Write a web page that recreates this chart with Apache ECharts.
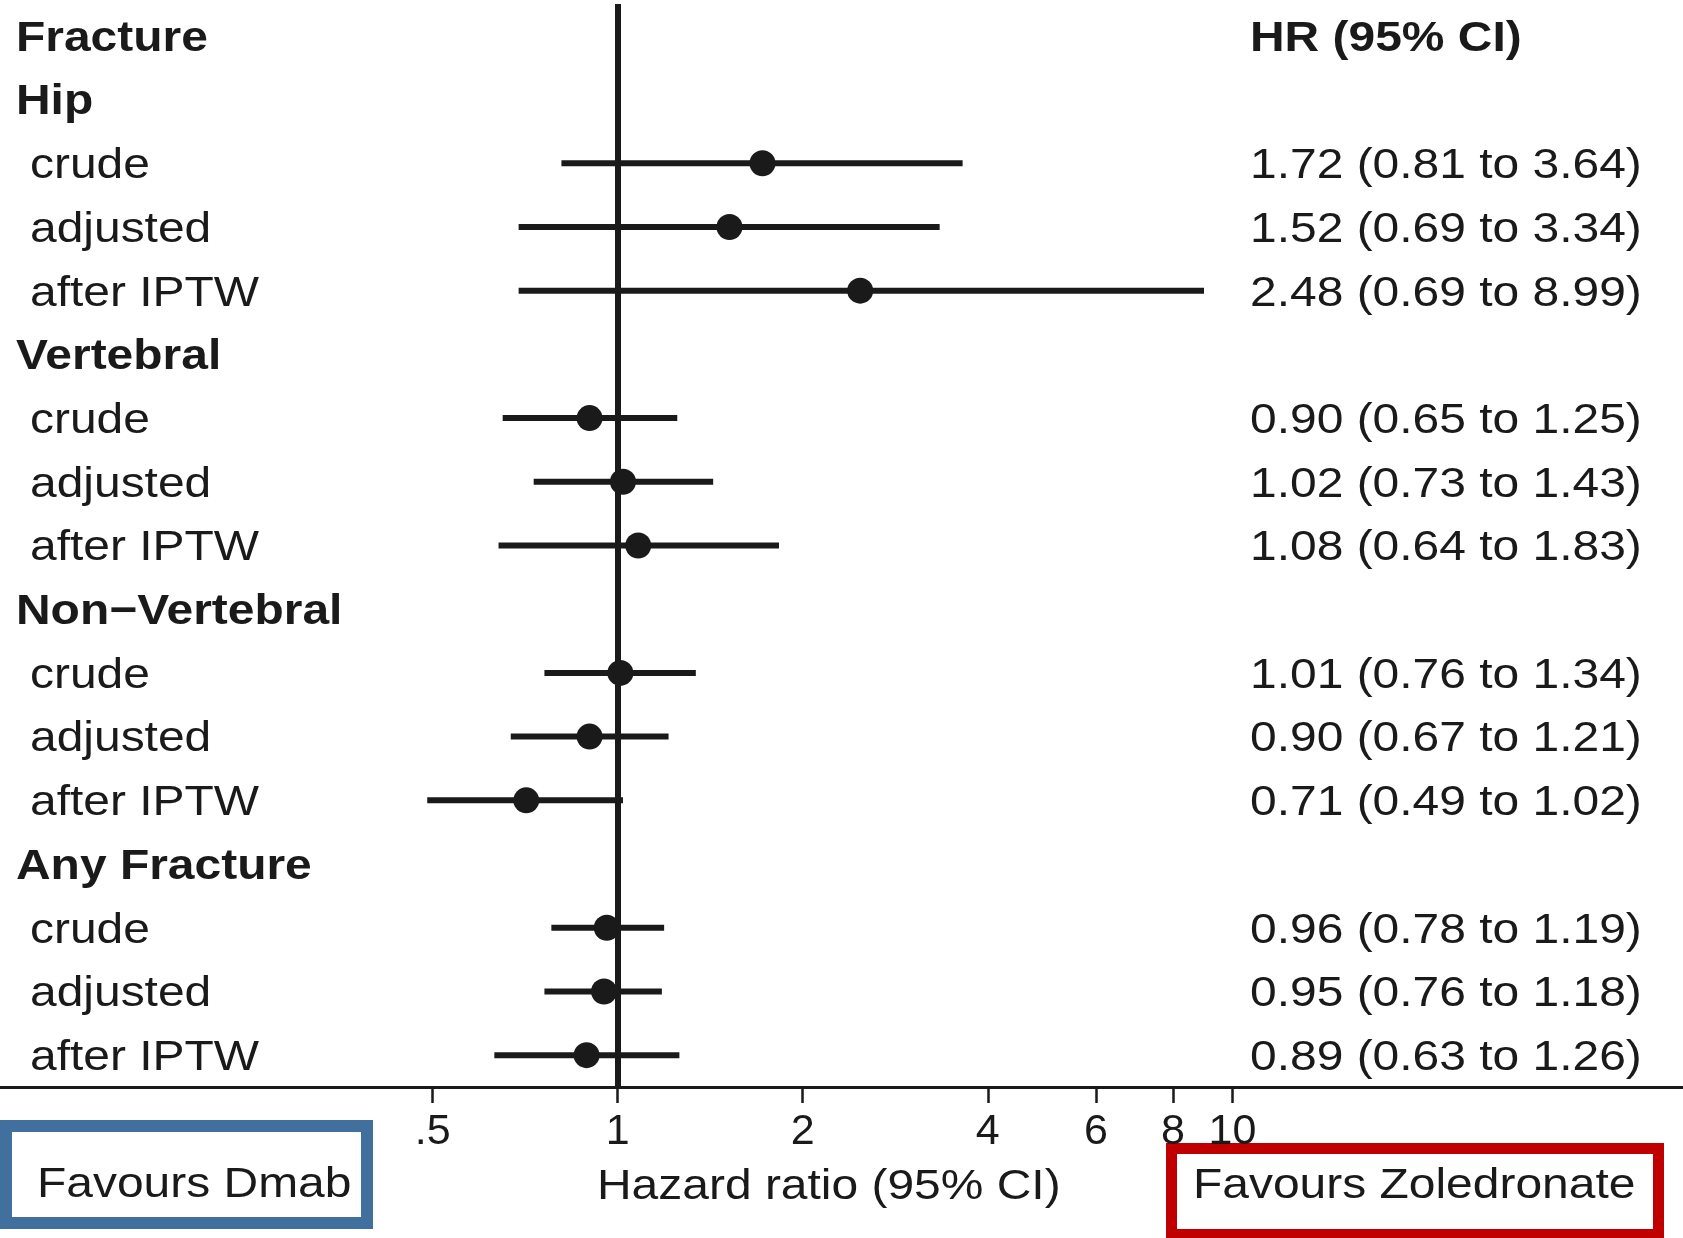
<!DOCTYPE html>
<html>
<head>
<meta charset="utf-8">
<script src="https://cdn.jsdelivr.net/npm/echarts@6/dist/echarts.min.js"></script>
<style>
  html, body { margin: 0; padding: 0; background: #ffffff; }
  #chart { width: 1683px; height: 1238px; }
</style>
</head>
<body>
<div id="chart"></div>
<script>
// Fracture outcomes, Dmab vs zoledronate: hazard ratios with 95% CI
const outcomes = ['Hip', 'Vertebral', 'Non\u2212Vertebral', 'Any Fracture'];
const methods = ['crude', 'adjusted', 'after IPTW'];
const hr    = [1.72, 1.52, 2.48, 0.90, 1.02, 1.08, 1.01, 0.90, 0.71, 0.96, 0.95, 0.89];
const lower = [0.81, 0.69, 0.69, 0.65, 0.73, 0.64, 0.76, 0.67, 0.49, 0.78, 0.76, 0.63];
const upper = [3.64, 3.34, 8.99, 1.25, 1.43, 1.83, 1.34, 1.21, 1.02, 1.19, 1.18, 1.26];
const tickValues = [0.5, 1, 2, 4, 6, 8, 10];
const tickLabels = ['.5', '1', '2', '4', '6', '8', '10'];

const INK = '#1a1a1a';
const FONT = '"Liberation Sans", Arial, Helvetica, sans-serif';
const FS = 43;
const SX = 1.115;   // horizontal stretch of the table text
const TY = 3;       // baseline nudge so caps sit centred on each row

const fmt = v => v.toFixed(2);

// table rows: header, then each outcome followed by its three estimates
const rows = [{ label: 'Fracture', right: 'HR (95% CI)', head: true, k: -1 }];
outcomes.forEach((o, gi) => {
  rows.push({ label: o, right: '', head: true, k: -1 });
  methods.forEach((m, mi) => {
    const k = gi * methods.length + mi;
    rows.push({
      label: m,
      right: fmt(hr[k]) + ' (' + fmt(lower[k]) + ' to ' + fmt(upper[k]) + ')',
      head: false,
      k: k
    });
  });
});

const ciData = [];
const pointData = [];
rows.forEach((r, i) => {
  if (r.k >= 0) {
    ciData.push([lower[r.k], upper[r.k], i]);
    pointData.push([hr[r.k], i]);
  }
});

const chart = echarts.init(document.getElementById('chart'), null, { renderer: 'canvas' });

function textEl(x, y, str, bold, align) {
  return {
    type: 'text',
    x: x,
    y: y + TY,
    scaleX: SX,
    style: {
      text: str,
      fontFamily: FONT,
      fontSize: FS,
      fontWeight: bold ? 'bold' : 'normal',
      fill: INK,
      align: align || 'left',
      verticalAlign: 'middle'
    }
  };
}

chart.setOption({
  animation: false,
  backgroundColor: '#ffffff',
  grid: { left: 0, right: 0, top: 4, bottom: 151, containLabel: false },
  xAxis: {
    type: 'log',
    logBase: 2,
    min: 0.0989,
    max: 54.07,
    axisLine: { show: true, lineStyle: { color: INK, width: 3 } },
    axisTick: {
      show: true,
      customValues: tickValues,
      length: 16,
      lineStyle: { color: INK, width: 2.5 }
    },
    axisLabel: {
      customValues: tickValues,
      margin: 24,
      color: INK,
      fontFamily: FONT,
      fontSize: FS,
      formatter: function (v) {
        for (let i = 0; i < tickValues.length; i++) {
          if (Math.abs(tickValues[i] - v) < 1e-6) return tickLabels[i];
        }
        return '';
      }
    },
    splitLine: { show: false },
    minorTick: { show: false }
  },
  yAxis: {
    type: 'category',
    inverse: true,
    data: rows.map((_, i) => String(i)),
    axisLine: { show: false },
    axisTick: { show: false },
    axisLabel: { show: false },
    splitLine: { show: false }
  },
  graphic: [
    // box around the left-hand direction label
    {
      type: 'rect',
      shape: { x: 6, y: 1126, width: 361, height: 97 },
      style: { fill: '#ffffff', stroke: '#41709e', lineWidth: 12 }
    },
    textEl(37, 1182, 'Favours Dmab', false),
    // box around the right-hand direction label
    {
      type: 'rect',
      shape: { x: 1171.5, y: 1148.5, width: 487, height: 86 },
      style: { fill: '#ffffff', stroke: '#c00000', lineWidth: 11 }
    },
    textEl(1193, 1183, 'Favours Zoledronate', false),
    // axis title
    textEl(597, 1184, 'Hazard ratio (95% CI)', false)
  ],
  series: [
    {
      // confidence interval segments
      type: 'custom',
      data: ciData,
      encode: { x: [0, 1], y: 2 },
      renderItem: function (params, api) {
        const a = api.coord([api.value(0), api.value(2)]);
        const b = api.coord([api.value(1), api.value(2)]);
        return {
          type: 'line',
          shape: { x1: a[0], y1: a[1], x2: b[0], y2: b[1] },
          style: { stroke: INK, lineWidth: 6 }
        };
      },
      z: 2
    },
    {
      // point estimates, with the line of no effect at HR = 1
      type: 'scatter',
      data: pointData,
      symbol: 'circle',
      symbolSize: 26,
      itemStyle: { color: INK, opacity: 1 },
      z: 3,
      markLine: {
        silent: true,
        symbol: ['none', 'none'],
        label: { show: false },
        lineStyle: { color: INK, width: 6, type: 'solid', opacity: 1 },
        data: [{ xAxis: 1 }]
      }
    },
    {
      // row labels and the HR (95% CI) column
      type: 'custom',
      data: rows.map((_, i) => [1, i]),
      encode: { x: 0, y: 1 },
      renderItem: function (params, api) {
        const r = rows[params.dataIndex];
        const y = api.coord([1, api.value(1)])[1];
        const children = [textEl(r.head ? 16 : 30, y, r.label, r.head)];
        if (r.right) children.push(textEl(1250, y, r.right, r.head));
        return { type: 'group', children: children };
      },
      z: 4
    }
  ]
});
</script>
</body>
</html>
